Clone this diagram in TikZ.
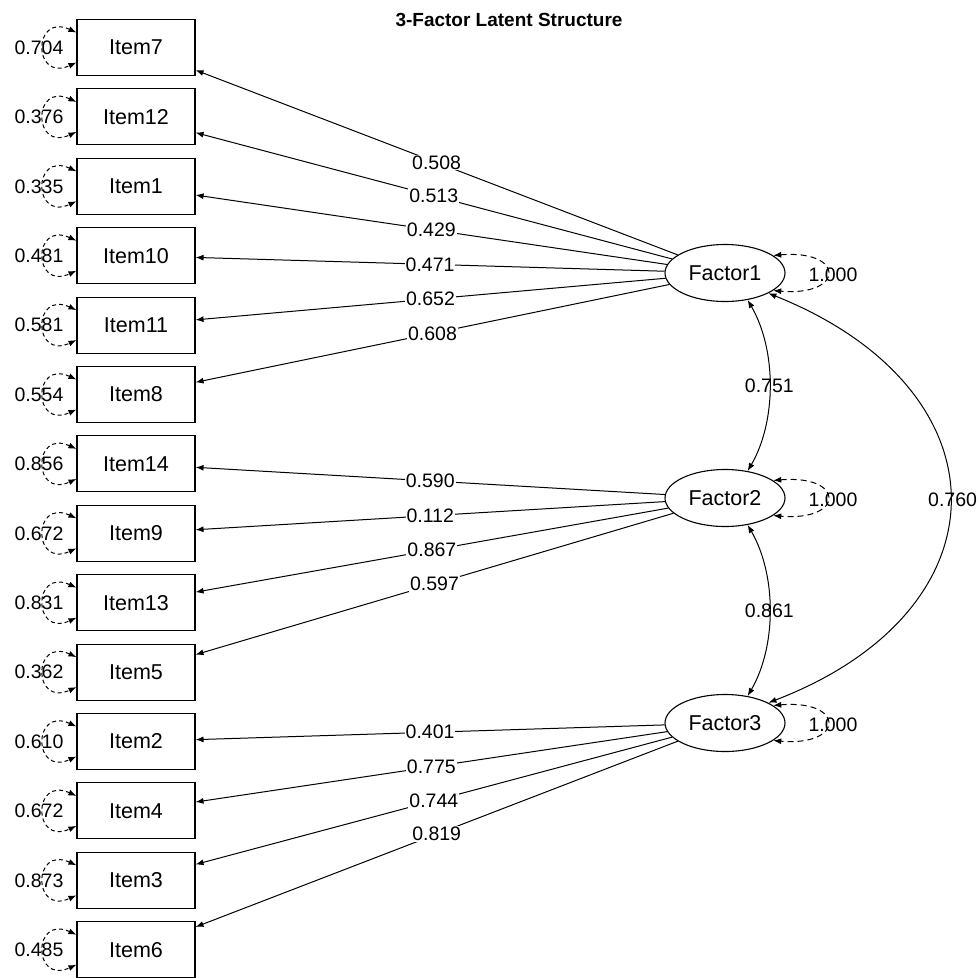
\documentclass[tikz,border=0pt]{standalone}
\usepackage{fontspec}
\setmainfont{Liberation Sans}
\usetikzlibrary{shapes.geometric,arrows.meta,calc}
\begin{document}
\begin{tikzpicture}[x=1pt,y=-1pt,
  itembox/.style={draw,line width=1.1pt,minimum width=118pt,minimum height=56pt,inner sep=0pt,font=\fontsize{21.5}{26}\selectfont},
  factor/.style={draw,ellipse,line width=1.1pt,minimum width=120pt,minimum height=57pt,inner sep=0pt,font=\fontsize{21.5}{26}\selectfont},
  num/.style={font=\fontsize{19.5}{23}\selectfont,inner sep=1pt},
  load/.style={line width=1pt,{Latex[length=8pt,width=6pt]}-},
  resid/.style={line width=1pt,dash pattern=on 4pt off 3pt,{Latex[length=8pt,width=6pt]}-{Latex[length=8pt,width=6pt]}},
  corr/.style={line width=1pt,{Latex[length=8pt,width=6pt]}-{Latex[length=8pt,width=6pt]}},
  fvar/.style={line width=1pt,dash pattern=on 6pt off 4pt,{Latex[length=8pt,width=6pt]}-{Latex[length=8pt,width=6pt]}}
]
\useasboundingbox (0,0) rectangle (979,977);

\node[font=\bfseries\fontsize{19}{23}\selectfont] (title) at (509,20) {3-Factor Latent Structure};

% factors
\node[factor] (F1) at (725,273) {Factor1};
\node[factor] (F2) at (725,498) {Factor2};
\node[factor] (F3) at (725,723) {Factor3};

% items with residuals
\foreach \name/\res [count=\k from 0] in {Item7/0.704,Item12/0.376,Item1/0.335,Item10/0.481,Item11/0.581,Item8/0.554,Item14/0.856,Item9/0.672,Item13/0.831,Item5/0.362,Item2/0.610,Item4/0.672,Item3/0.873,Item6/0.485}{
  \node[itembox] (\name) at (136,{47.5+\k*69.4}) {\name};
  \draw[resid] ([yshift=15pt]\name.west) .. controls ([xshift=-44pt,yshift=35pt]\name.west) and ([xshift=-44pt,yshift=-35pt]\name.west) .. ([yshift=-15pt]\name.west);
  \node[num] (r\name) at (39,{47.5+\k*69.4}) {\res};
}

% loadings
\foreach \name/\f/\v in {Item7/F1/0.508,Item12/F1/0.513,Item1/F1/0.429,Item10/F1/0.471,Item11/F1/0.652,Item8/F1/0.608,Item14/F2/0.590,Item9/F2/0.112,Item13/F2/0.867,Item5/F2/0.597,Item2/F3/0.401,Item4/F3/0.775,Item3/F3/0.744,Item6/F3/0.819}{
  \draw[load] (\name) -- node[num,fill=white] {\v} (\f);
}

% factor variances
\foreach \f in {F1,F2,F3}{
  \draw[fvar] (\f.20) .. controls ([xshift=72pt,yshift=6pt]\f.20) and ([xshift=72pt,yshift=-6pt]\f.-20) .. (\f.-20);
  \node[num] (v\f) at ($(\f.center)+(108,2)$) {1.000};
}

% correlations
\draw[corr] (F1.-50) .. controls ([xshift=29pt,yshift=-50pt]F1.-50) and ([xshift=29pt,yshift=50pt]F2.50) .. node[num,pos=0.5] {0.751} (F2.50);
\draw[corr] (F2.-50) .. controls ([xshift=29pt,yshift=-50pt]F2.-50) and ([xshift=29pt,yshift=50pt]F3.50) .. node[num,pos=0.5] {0.861} (F3.50);
\draw[corr] (F1.-25) .. controls (1010,390) and (1010,610) .. node[num,pos=0.5,xshift=3pt] {0.760} (F3.25);
\end{tikzpicture}
\end{document}
